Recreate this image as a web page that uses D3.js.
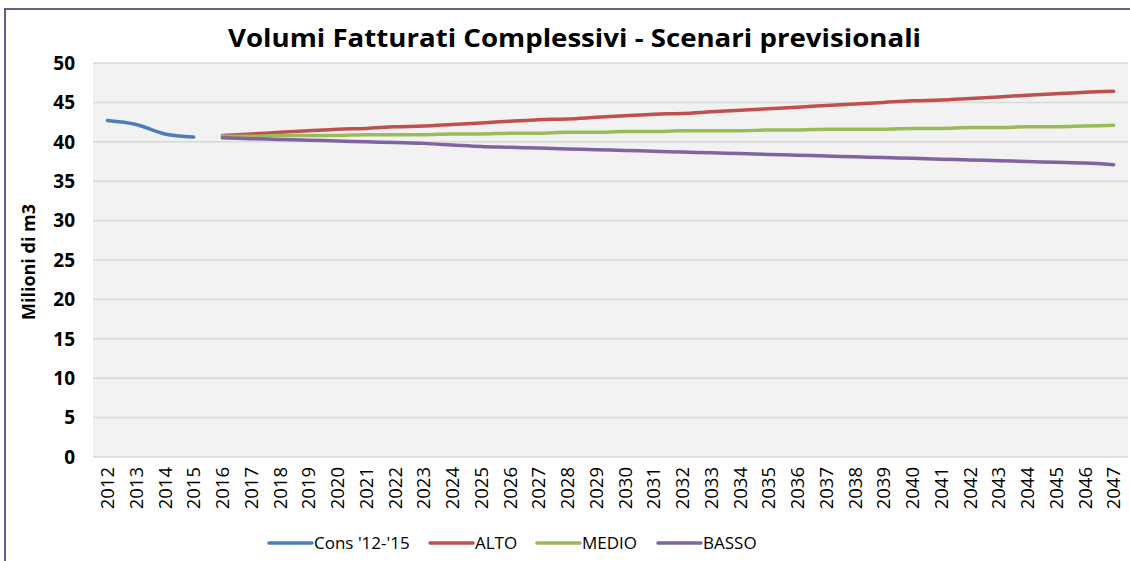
<!DOCTYPE html>
<html>
<head>
<meta charset="utf-8">
<script src="https://cdn.jsdelivr.net/npm/d3@7"></script>
<style>
  body { margin: 0; background: #fff; }
  svg { display: block; font-family: 'Open Sans', sans-serif; }
</style>
</head>
<body>
<svg id="chart" width="1130" height="561"></svg>
<script>
// Values (milioni di m3)
const years = d3.range(2012, 2048).map(String)
const consYears = ['2012', '2013', '2014', '2015']
const consValues = [42.7, 42.2, 41.0, 40.6]
const scenYears = d3.range(2016, 2048).map(String)
const altoValues = [40.8, 41.0, 41.2, 41.4, 41.6, 41.7, 41.9, 42.0, 42.2, 42.4, 42.6, 42.8, 42.9, 43.1, 43.3, 43.5,
  43.6, 43.8, 44.0, 44.2, 44.4, 44.6, 44.8, 45.0, 45.2, 45.3, 45.5, 45.7, 45.9, 46.1, 46.3, 46.4]
const medioValues = [40.7, 40.7, 40.8, 40.8, 40.8, 40.9, 40.9, 40.9, 41.0, 41.0, 41.1, 41.1, 41.2, 41.2, 41.3, 41.3,
  41.4, 41.4, 41.4, 41.5, 41.5, 41.6, 41.6, 41.6, 41.7, 41.7, 41.8, 41.8, 41.9, 41.9, 42.0, 42.1]
const bassoValues = [40.5, 40.4, 40.3, 40.2, 40.1, 40.0, 39.9, 39.8, 39.6, 39.4, 39.3, 39.2, 39.1, 39.0, 38.9, 38.8,
  38.7, 38.6, 38.5, 38.4, 38.3, 38.2, 38.1, 38.0, 37.9, 37.8, 37.7, 37.6, 37.5, 37.4, 37.3, 37.1]
const yTicks = [0, 5, 10, 15, 20, 25, 30, 35, 40, 45, 50]
const seriesNames = ["Cons '12-'15", 'ALTO', 'MEDIO', 'BASSO']
const seriesColors = ['#4a7ebb', '#c0504d', '#9bbb59', '#8064a2']

const series = [
  { name: seriesNames[0], color: seriesColors[0], values: consYears.map((y, i) => ({ year: y, v: consValues[i] })) },
  { name: seriesNames[1], color: seriesColors[1], values: scenYears.map((y, i) => ({ year: y, v: altoValues[i] })) },
  { name: seriesNames[2], color: seriesColors[2], values: scenYears.map((y, i) => ({ year: y, v: medioValues[i] })) },
  { name: seriesNames[3], color: seriesColors[3], values: scenYears.map((y, i) => ({ year: y, v: bassoValues[i] })) }
]

const svg = d3.select('#chart')
const plot = { left: 93, right: 1128, top: 63, bottom: 457 }

// outer chart frame
svg.append('rect')
  .attr('x', 5).attr('y', 9)
  .attr('width', 1140).attr('height', 600)
  .attr('fill', '#fff')
  .attr('stroke', '#6f5a8f')
  .attr('stroke-width', 2)

svg.append('text')
  .attr('x', 228).attr('y', 47)
  .attr('textLength', 693)
  .attr('lengthAdjust', 'spacingAndGlyphs')
  .attr('font-size', 25)
  .attr('font-weight', 700)
  .attr('fill', '#000')
  .text('Volumi Fatturati Complessivi - Scenari previsionali')

const x = d3.scaleBand().domain(years).range([plot.left, plot.right])
const xc = d => x(d) + x.bandwidth() / 2
const y = d3.scaleLinear().domain([0, 50]).range([plot.bottom, plot.top])

svg.append('rect')
  .attr('x', plot.left).attr('y', plot.top)
  .attr('width', plot.right - plot.left).attr('height', plot.bottom - plot.top)
  .attr('fill', '#f2f2f2')

// gridlines
svg.append('g')
  .selectAll('line')
  .data(yTicks)
  .join('line')
  .attr('x1', plot.left).attr('x2', plot.right)
  .attr('y1', d => y(d)).attr('y2', d => y(d))
  .attr('stroke', '#d9d9d9')
  .attr('stroke-width', 1.5)

// y axis labels
svg.append('g')
  .selectAll('text')
  .data(yTicks)
  .join('text')
  .attr('x', 75)
  .attr('y', d => y(d))
  .attr('dy', '0.36em')
  .attr('text-anchor', 'end')
  .attr('font-size', 19)
  .attr('font-weight', 700)
  .text(d => d)

svg.append('text')
  .attr('transform', 'translate(35, 262) rotate(-90)')
  .attr('text-anchor', 'middle')
  .attr('font-size', 18)
  .attr('font-weight', 700)
  .text('Milioni di m3')

// x axis labels (rotated)
svg.append('g')
  .selectAll('text')
  .data(years)
  .join('text')
  .attr('transform', d => 'translate(' + xc(d) + ', 467) rotate(-90)')
  .attr('dy', '0.36em')
  .attr('text-anchor', 'end')
  .attr('font-size', 18.5)
  .text(d => d)

const line = d3.line()
  .x(d => xc(d.year))
  .y(d => y(d.v))
  .curve(d3.curveMonotoneX)

svg.append('g')
  .selectAll('path')
  .data(series)
  .join('path')
  .attr('d', d => line(d.values))
  .attr('fill', 'none')
  .attr('stroke', d => d.color)
  .attr('stroke-width', 3.5)
  .attr('stroke-linecap', 'round')
  .attr('stroke-linejoin', 'round')

// legend
const legendX = [269, 430, 537, 658]
const legend = svg.append('g')
  .selectAll('g')
  .data(series)
  .join('g')
  .attr('transform', (d, i) => 'translate(' + legendX[i] + ', 543)')

legend.append('line')
  .attr('x1', 0).attr('x2', 43)
  .attr('stroke', d => d.color)
  .attr('stroke-width', 3.5)
  .attr('stroke-linecap', 'round')

legend.append('text')
  .attr('x', 45)
  .attr('dy', '0.36em')
  .attr('font-size', 17)
  .text(d => d.name)
</script>
</body>
</html>
